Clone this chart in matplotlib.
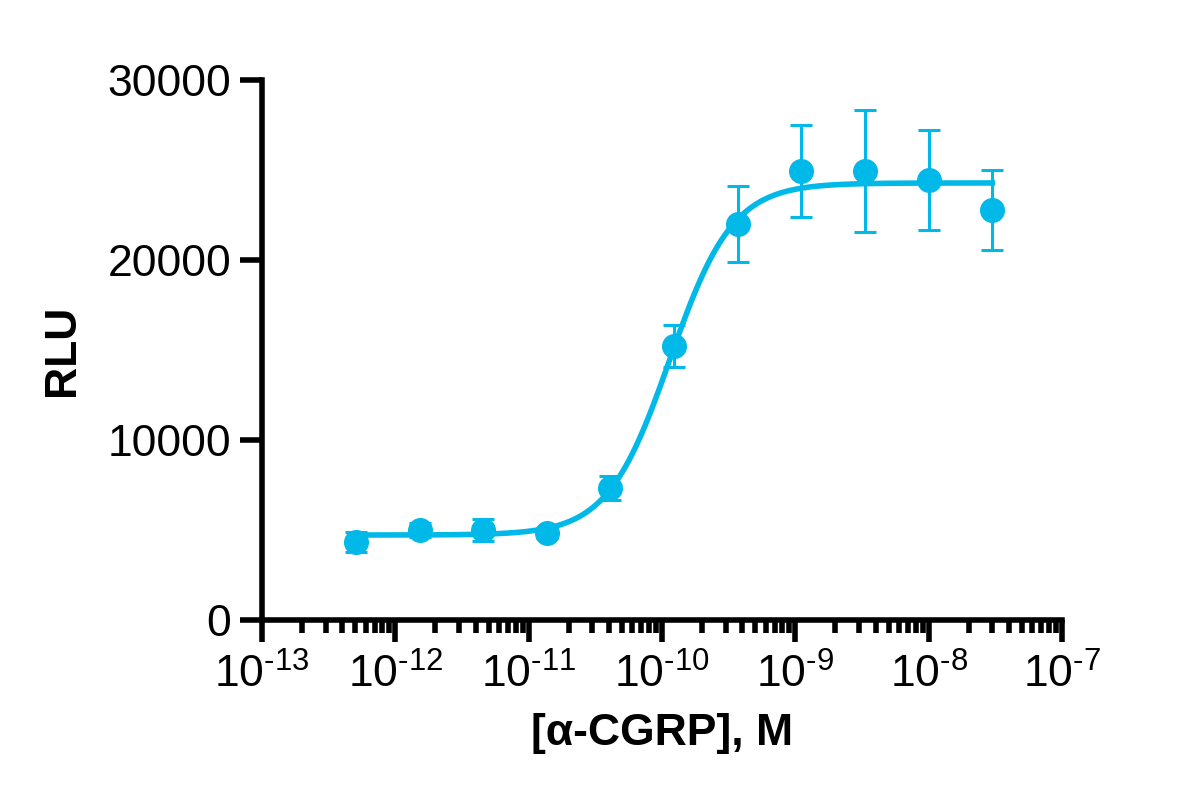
import numpy as np
import matplotlib
matplotlib.use("Agg")
import matplotlib.pyplot as plt
from matplotlib.ticker import FixedLocator, LogLocator, NullFormatter, FuncFormatter

plt.rcParams['font.family'] = ['Liberation Sans', 'DejaVu Sans']
plt.rcParams['mathtext.default'] = 'regular'
plt.rcParams['axes.unicode_minus'] = False

# Data
conc = [5.1e-13, 1.52e-12, 4.57e-12, 1.37e-11, 4.1e-11, 1.23e-10, 3.7e-10, 1.11e-9, 3.33e-9, 1.0e-8, 3.0e-8]
rlu = [4330, 5000, 5000, 4830, 7330, 15220, 22000, 24940, 24940, 24440, 22780]
sd = [550, 400, 600, 300, 650, 1150, 2100, 2550, 3390, 2800, 2220]

# 4PL fit parameters
fit_bottom = 4720
fit_top = 24280
fit_logec50 = -9.94
fit_hill = 1.85

color = '#00B9E8'

fig = plt.figure(figsize=(12, 8.09), dpi=100)
ax = fig.add_axes([262/1200, 1 - 620/809, 800/1200, 540/809])

xc = np.logspace(np.log10(conc[0]), np.log10(conc[-1]), 400)
yc = fit_bottom + (fit_top - fit_bottom) / (1 + 10 ** ((fit_logec50 - np.log10(xc)) * fit_hill))
ax.plot(xc, yc, color=color, lw=4.0, zorder=2)

ax.errorbar(conc, rlu, yerr=sd, fmt='o', color=color, ms=17, elinewidth=2.2,
            capsize=8, capthick=2.2, zorder=3)

ax.set_xscale('log')
ax.set_xlim(1e-13, 1e-7)
ax.set_ylim(0, 30000)

for s in ['top', 'right']:
    ax.spines[s].set_visible(False)
for s in ['left', 'bottom']:
    ax.spines[s].set_linewidth(4.0)
    ax.spines[s].set_capstyle('projecting')

ax.yaxis.set_major_locator(FixedLocator([0, 10000, 20000, 30000]))
ax.xaxis.set_major_locator(FixedLocator([1e-13, 1e-12, 1e-11, 1e-10, 1e-9, 1e-8, 1e-7]))
ax.xaxis.set_minor_locator(LogLocator(base=10, subs=np.arange(2, 10), numticks=20))
ax.xaxis.set_minor_formatter(NullFormatter())
ax.xaxis.set_major_formatter(FuncFormatter(lambda v, p: '$10^{\u2010%d}$' % int(round(-np.log10(v)))))

ax.tick_params(axis='both', which='major', length=16, width=4.0, labelsize=32, pad=6, color='black')
ax.tick_params(axis='x', which='minor', length=9, width=4.0)
ax.tick_params(axis='x', which='major', pad=8)

ax.set_ylabel('RLU', fontsize=32, fontweight='bold', labelpad=18)
ax.set_xlabel('[α-CGRP], M', fontsize=32, fontweight='bold', labelpad=12)

fig.savefig('out.png', dpi=100)
